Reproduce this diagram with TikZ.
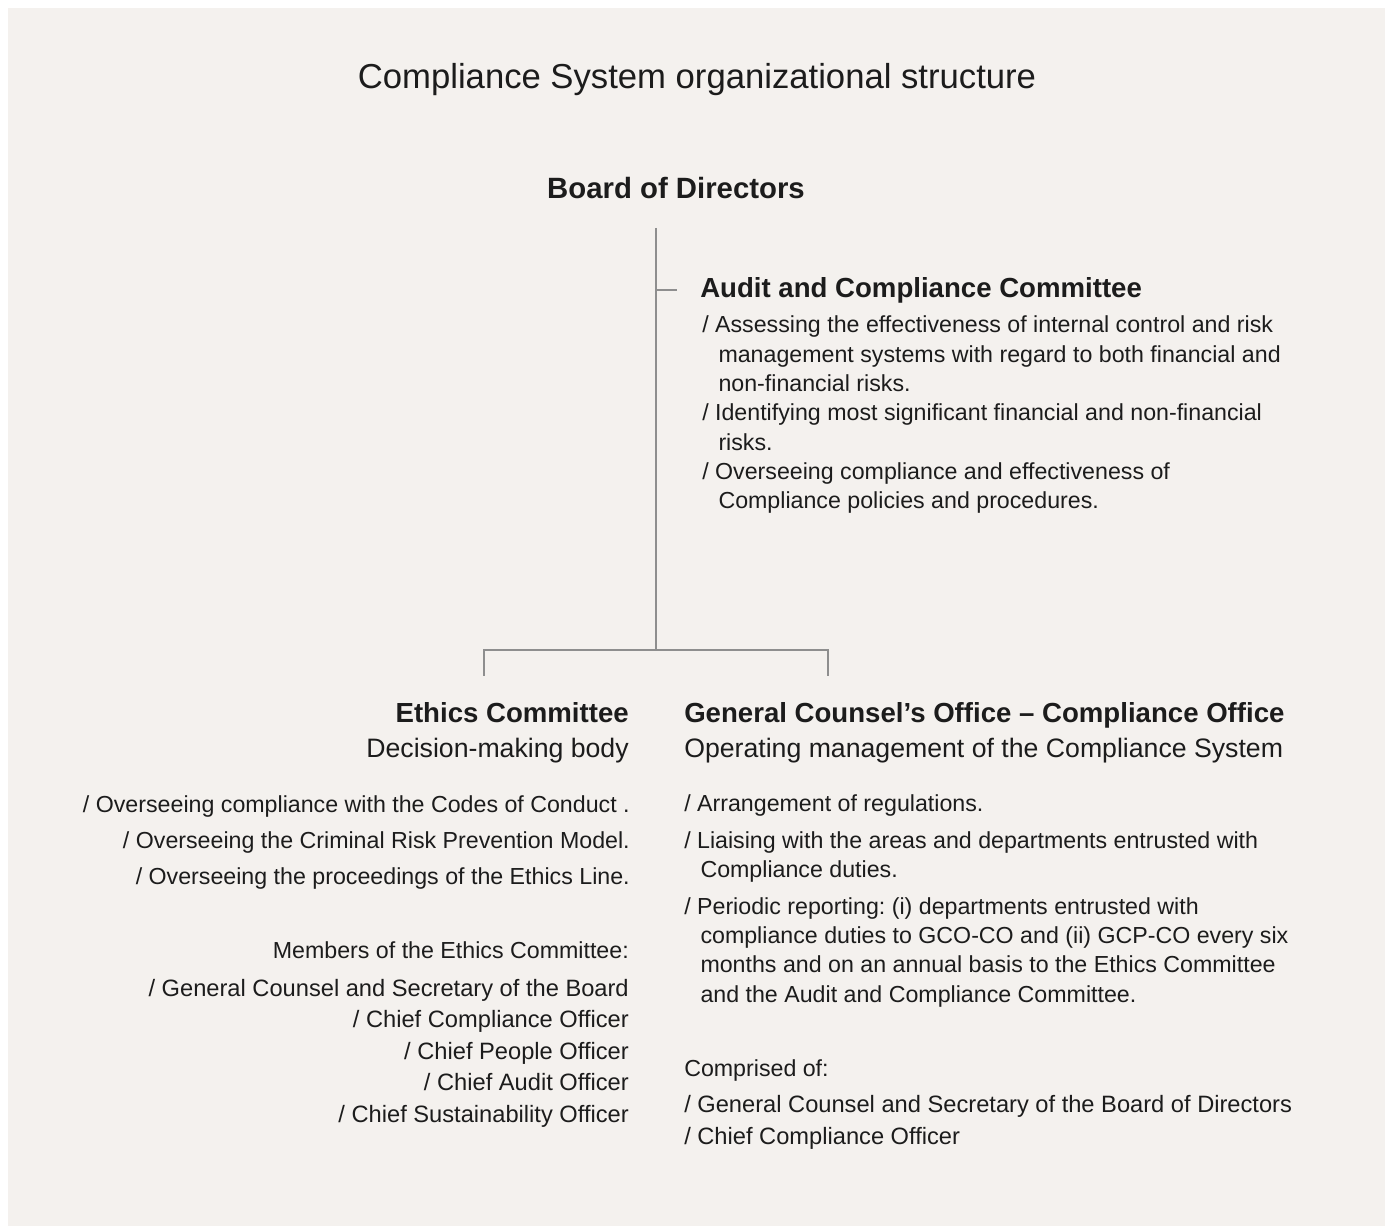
\documentclass[tikz,border=0pt]{standalone}
\usepackage{fontspec}
\setmainfont{Liberation Sans}
\usetikzlibrary{positioning}
\usepackage{xcolor}
\definecolor{paper}{HTML}{F4F1EE}
\definecolor{ink}{HTML}{1C1C1C}
\definecolor{rulegray}{HTML}{8E8E8E}
\newcommand{\hang}{\hspace*{0.7em}}
\frenchspacing

\tikzset{
    title/.style={inner sep=0pt,text=ink,font=\fontsize{26}{30}\selectfont},
    board/.style={inner sep=0pt,text=ink,font=\fontsize{22}{26}\selectfont\bfseries},
    heading/.style={inner sep=0pt,text=ink,font=\fontsize{20.7}{25}\selectfont\bfseries},
    subhead/.style={inner sep=0pt,text=ink,font=\fontsize{20}{24}\selectfont},
    body/.style={inner sep=0pt,text=ink,font=\fontsize{17.4}{22}\selectfont},
    member/.style={body,font=\fontsize{17.75}{22}\selectfont},
    link/.style={draw=rulegray,line width=0.9pt}
}

\begin{document}
\begin{tikzpicture}[x=0.75pt,y=-0.75pt]
    % page and paper
    \fill[white] (0,0) rectangle (1390,1226);
    \fill[paper] (8,8) rectangle (1385,1226);
    \useasboundingbox (0,0) rectangle (1390,1226);

    \node [title,anchor=base] (title) at (697,89) {Compliance System organizational structure};
    \node [board,anchor=base] (board) at (676,199) {Board of Directors};

    % audit and compliance committee (lists sit on their last baseline)
    \node [heading,anchor=base west] (acc) at (700,298) {Audit and Compliance Committee};
    \node [body,anchor=base west,align=left] (accList) at (702,509) {%
        / Assessing the effectiveness of internal control and risk\\
        \hang management systems with regard to both financial and\\
        \hang non-financial risks.\\
        / Identifying most significant financial and non-financial\\
        \hang risks.\\
        / Overseeing compliance and effectiveness of\\
        \hang Compliance policies and procedures.};

    % ethics committee
    \node [heading,anchor=base east] (ethics) at (629,723) {Ethics Committee};
    \node [subhead,anchor=base east] (ethicsSub) at (629,758) {Decision-making body};
    \node [body,anchor=base east,align=right] (ethicsList) at (630,884) {%
        / Overseeing compliance with the Codes of Conduct .\\[5pt]
        / Overseeing the Criminal Risk Prevention Model.\\[5pt]
        / Overseeing the proceedings of the Ethics Line.};
    \node [body,anchor=base east] (members) at (629,958) {Members of the Ethics Committee:};
    \node [member,anchor=base east,align=right] (membersList) at (629,1122) {%
        / General Counsel and Secretary of the Board\\[1.6pt]
        / Chief Compliance Officer\\[1.6pt]
        / Chief People Officer\\[1.6pt]
        / Chief Audit Officer\\[1.6pt]
        / Chief Sustainability Officer};

    % general counsel's office
    \node [heading,anchor=base west] (gco) at (684,723) {General Counsel's Office -- Compliance Office};
    \node [subhead,anchor=base west] (gcoSub) at (684,758) {Operating management of the Compliance System};
    \node [body,anchor=base west,align=left] (gcoList) at (684,1002) {%
        / Arrangement of regulations.\\[5.5pt]
        / Liaising with the areas and departments entrusted with\\
        \hang Compliance duties.\\[5.5pt]
        / Periodic reporting: (i) departments entrusted with\\
        \hang compliance duties to GCO-CO and (ii) GCP-CO every six\\
        \hang months and on an annual basis to the Ethics Committee\\
        \hang and the Audit and Compliance Committee.};
    \node [body,anchor=base west] (comprised) at (684,1076) {Comprised of:};
    \node [member,anchor=base west,align=left] (comprisedList) at (684,1144) {%
        / General Counsel and Secretary of the Board of Directors\\[1.3pt]
        / Chief Compliance Officer};

    % connectors
    \coordinate (trunk) at (656,228);
    \coordinate (split) at (656,650);
    \coordinate (tick) at (656,290);
    \coordinate (tickEnd) at (677,290);
    \coordinate (ethicsDrop) at (484,676);
    \coordinate (gcoDrop) at (828,676);
    \draw [link] (trunk) -- (split);
    \draw [link] (tick) -- (tickEnd);
    \draw [link] (ethicsDrop) |- (split) -| (gcoDrop);
\end{tikzpicture}
\end{document}
